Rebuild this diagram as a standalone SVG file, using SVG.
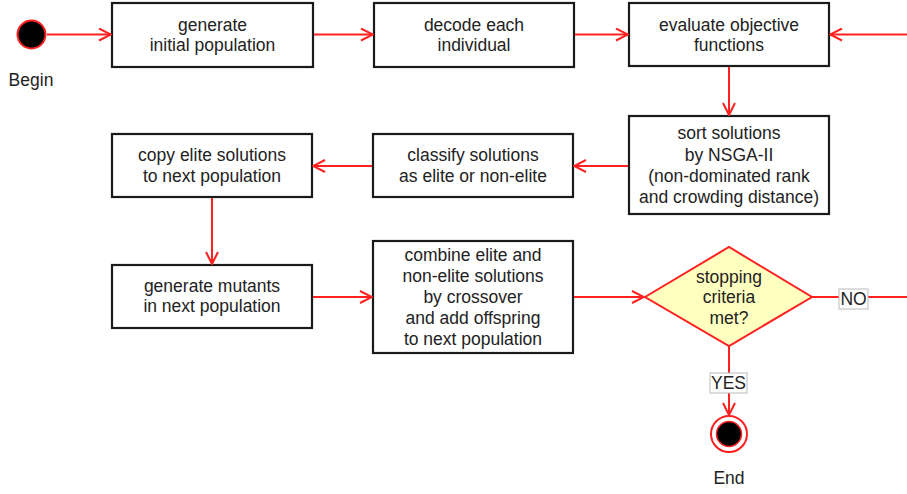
<svg xmlns="http://www.w3.org/2000/svg" width="907" height="494" viewBox="0 0 907 494">
<defs>
<marker id="arr" viewBox="0 0 14 14" refX="13" refY="7" markerWidth="14" markerHeight="14" markerUnits="userSpaceOnUse" orient="auto">
<path d="M1,1 L13,7 L1,13" fill="none" stroke="#ff2020" stroke-width="2"/>
</marker>
<style>
.box{fill:#fff;stroke:#1a1a1a;stroke-width:2.2}
.t{font-family:"Liberation Sans",Arial,sans-serif;font-size:17.5px;fill:#222;text-anchor:middle}
.c{fill:none;stroke:#ff2020;stroke-width:2}
.lbl{fill:#fff;stroke:#bbb;stroke-width:1}
</style>
</defs>
<rect width="907" height="494" fill="#fff"/>
<g id="begin">
<circle cx="31.5" cy="34.5" r="14" fill="#000" stroke="#ff2020" stroke-width="2"/>
<text class="t" x="31" y="86">Begin</text>
</g>
<g id="n1">
<rect class="box" x="112" y="3" width="201" height="64"/>
<text class="t" x="212.5" y="30.5">generate</text>
<text class="t" x="212.5" y="51">initial population</text>
</g>
<g id="n2">
<rect class="box" x="374" y="3" width="200" height="64"/>
<text class="t" x="474" y="30.5">decode each</text>
<text class="t" x="474" y="51">individual</text>
</g>
<g id="n3">
<rect class="box" x="629" y="3" width="200" height="63"/>
<text class="t" x="729" y="30.5">evaluate objective</text>
<text class="t" x="729" y="51">functions</text>
</g>
<g id="n4">
<rect class="box" x="629" y="116" width="200" height="98"/>
<text class="t" x="729" y="139">sort solutions</text>
<text class="t" x="729" y="161">by NSGA-II</text>
<text class="t" x="729" y="182">(non-dominated rank</text>
<text class="t" x="729" y="203">and crowding distance)</text>
</g>
<g id="n5">
<rect class="box" x="373" y="134" width="200" height="63"/>
<text class="t" x="473" y="161">classify solutions</text>
<text class="t" x="473" y="182">as elite or non-elite</text>
</g>
<g id="n6">
<rect class="box" x="112" y="134" width="200" height="63"/>
<text class="t" x="212" y="161">copy elite solutions</text>
<text class="t" x="212" y="182">to next population</text>
</g>
<g id="n7">
<rect class="box" x="112" y="265" width="200" height="63"/>
<text class="t" x="212" y="292">generate mutants</text>
<text class="t" x="212" y="312">in next population</text>
</g>
<g id="n8">
<rect class="box" x="373" y="241" width="200" height="112"/>
<text class="t" x="473" y="261">combine elite and</text>
<text class="t" x="473" y="282">non-elite solutions</text>
<text class="t" x="473" y="303">by crossover</text>
<text class="t" x="473" y="324">and add offspring</text>
<text class="t" x="473" y="345">to next population</text>
</g>
<g id="decision">
<polygon points="645,297 729,247 812,297 729,346" fill="#ffffc0" stroke="#ff2020" stroke-width="2"/>
<text class="t" x="729" y="283">stopping</text>
<text class="t" x="729" y="303">criteria</text>
<text class="t" x="729" y="324">met?</text>
</g>
<g id="end">
<circle cx="729" cy="434" r="18" fill="#fff" stroke="#ff2020" stroke-width="2"/>
<circle cx="729" cy="434" r="12.5" fill="#000" stroke="#ff2020" stroke-width="1.5"/>
<text class="t" x="729" y="484">End</text>
</g>
<g id="connectors">
<path class="c" d="M47,34.5 H111" marker-end="url(#arr)"/>
<path class="c" d="M314,34.5 H373" marker-end="url(#arr)"/>
<path class="c" d="M575,34.5 H628" marker-end="url(#arr)"/>
<path class="c" d="M729,67 V115" marker-end="url(#arr)"/>
<path class="c" d="M628,166 H574" marker-end="url(#arr)"/>
<path class="c" d="M372,166 H313" marker-end="url(#arr)"/>
<path class="c" d="M212,198 V264" marker-end="url(#arr)"/>
<path class="c" d="M313,297 H372" marker-end="url(#arr)"/>
<path class="c" d="M574,297 H644" marker-end="url(#arr)"/>
<path class="c" d="M812,297 H907"/>
<path class="c" d="M907,34.5 H830" marker-end="url(#arr)"/>
<path class="c" d="M729,346 V415" marker-end="url(#arr)"/>
<rect class="lbl" x="839" y="289" width="29" height="20"/>
<text class="t" x="853.5" y="305">NO</text>
<rect class="lbl" x="710" y="373" width="37" height="20"/>
<text class="t" x="728.5" y="389">YES</text>
</g>
</svg>
